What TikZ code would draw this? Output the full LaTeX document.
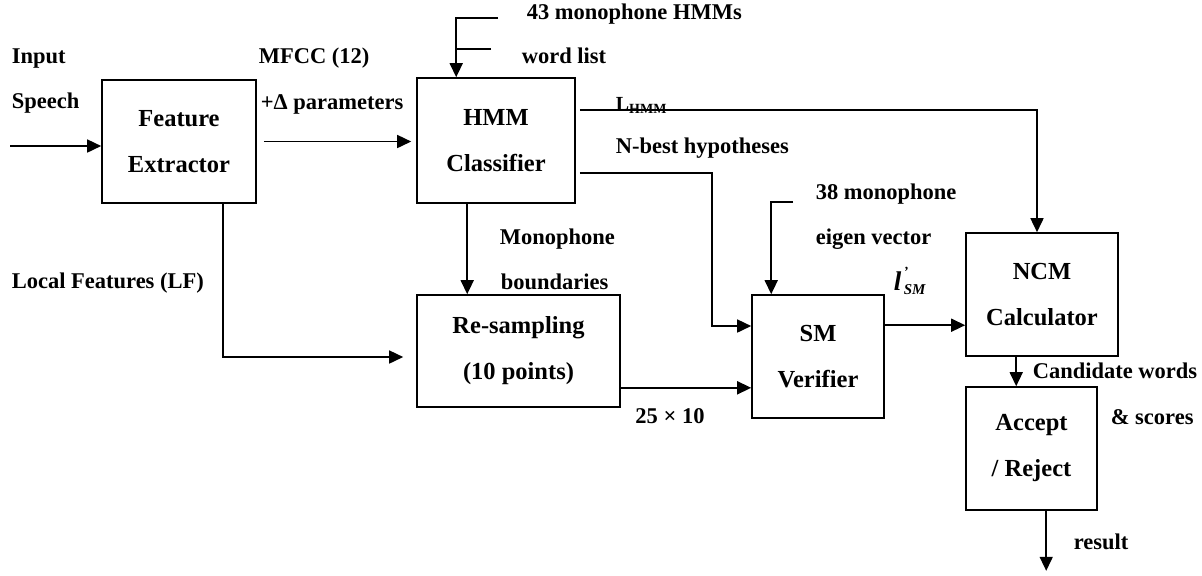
\documentclass[tikz,border=0pt]{standalone}
\usepackage{fontspec}
\setmainfont{Liberation Serif}
\usetikzlibrary{arrows.meta,calc}

\begin{document}
\begin{tikzpicture}[
    x=0.5pt, y=-0.5pt,
    line width=0.8pt,
    block/.style={draw, line width=0.8pt, align=center, inner sep=0pt,
                  font=\fontsize{12.25}{23}\selectfont\bfseries},
    lbl/.style={anchor=west, inner sep=0pt, text height=0.66em, text depth=0pt,
                font=\fontsize{11.25}{13}\selectfont\bfseries},
    flow/.style={-{Triangle[length=7pt,width=6.5pt]}}
]
\useasboundingbox (0,0) rectangle (1202,575);

% ---------- blocks ----------
\node[block, minimum width=77pt,  minimum height=61.5pt] (fe)  at (179,141.5)  {Feature\\Extractor};
\node[block, minimum width=79pt,  minimum height=62.5pt] (hmm) at (496,140.5)  {HMM\\Classifier};
\node[block, minimum width=101.5pt, minimum height=56pt] (rs)  at (518.5,351)  {Re-sampling\\(10 points)};
\node[block, minimum width=66pt,  minimum height=61.5pt] (sm)  at (818,356.5)  {SM\\Verifier};
\node[block, minimum width=76pt,  minimum height=61.5pt] (ncm) at (1042,294.5) {NCM\\Calculator};
\node[block, minimum width=65.5pt, minimum height=61.5pt] (ar) at (1031.5,448.5) {Accept\\/ Reject};

% ---------- plain labels ----------
\foreach \n/\p/\t in {input/{11,57}/Input, speech/{11,102}/Speech,
    mfcc/{258,57}/MFCC (12), delta/{260,103}/+Δ parameters,
    models/{526,13}/43 monophone HMMs, words/{521,57}/word list,
    nbest/{615,147}/N-best hypotheses, mono/{499,238}/Monophone,
    bound/{500,283}/boundaries, local/{11,282}/Local Features (LF),
    eig1/{815,193}/38 monophone, eig2/{815,238}/eigen vector,
    cand/{1032,372}/Candidate words, scores/{1110,418}/\& scores,
    res/{1073,543}/result}
  \node[lbl] (\n) at (\p) {\t};
\node[lbl, anchor=center] (dim) at (670,417) {25 × 10};
\node[anchor=base west, inner sep=0pt, font=\bfseries] (lhmm) at (615,110)
  {\fontsize{10}{12}\selectfont L\raisebox{-0.35ex}{\fontsize{7}{8}\selectfont HMM}};
\node[anchor=base west, inner sep=0pt, font=\bfseries\itshape] (lsm) at (893,290)
  {\fontsize{13.5}{15}\selectfont l\rlap{\raisebox{0.5em}{\fontsize{7}{8}\selectfont\,'}}\raisebox{-0.35ex}{\fontsize{7.5}{8}\selectfont\,SM}};

% ---------- input speech ----------
\coordinate (src) at (10,146);
\draw[flow] (src) -- (src -| fe.west);

% ---------- features to classifier ----------
\draw[flow, shorten <=3.5pt, shorten >=2.5pt] (fe.east) -- (fe.east -| hmm.west);

% ---------- models and word list ----------
\coordinate (hmmin) at ($(hmm.north west)+(40,0)$);
\coordinate (modl) at (498,18);
\coordinate (wl) at (491,49);
\draw[flow] (modl) -| (hmmin);
\draw (wl) -- (wl -| hmmin);

% ---------- likelihood to NCM ----------
\coordinate (lh) at ($(hmm.north east)+(4,33)$);
\draw[flow] (lh) -| ($(ncm.north)+(-5,0)$);

% ---------- N-best to verifier ----------
\coordinate (nb) at ($(hmm.south east)+(4,-31)$);
\coordinate (nbturn) at (712,326);
\draw[flow] (nb) -| (nbturn) -- (nbturn -| sm.west);

% ---------- boundaries ----------
\coordinate (mb) at ($(hmm.south west)+(51,0)$);
\draw[flow] (mb) -- (mb |- rs.north);

% ---------- local features ----------
\coordinate (lf) at ($(fe.south west)+(122,0)$);
\draw[flow, shorten >=6.5pt] (lf) |- ($(rs.west)+(0,6)$);

% ---------- resampled vectors ----------
\coordinate (rsout) at ($(rs.south east)+(0,-20)$);
\draw[flow] (rsout) -- (rsout -| sm.west);

% ---------- eigen vectors ----------
\coordinate (ev) at (793,202);
\draw[flow] (ev) -| ($(sm.north west)+(20,0)$);

% ---------- verifier to NCM ----------
\coordinate (smout) at ($(sm.north east)+(0,31)$);
\draw[flow] (smout) -- (smout -| ncm.west);

% ---------- decision ----------
\coordinate (nc) at ($(ncm.south west)+(51,0)$);
\draw[flow] (nc) -- (nc |- ar.north);
\coordinate (ao) at ($(ar.south west)+(81,0)$);
\coordinate (out) at ($(ao)+(0,60)$);
\draw[flow] (ao) -- (out);

\end{tikzpicture}
\end{document}
